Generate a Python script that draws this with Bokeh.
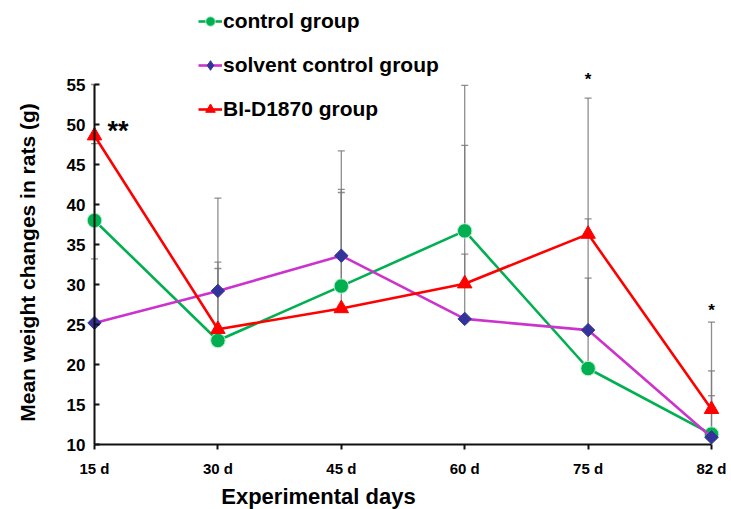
import numpy as np
from bokeh.plotting import figure
from bokeh.models import Range1d, FixedTicker, Legend, LegendItem, Label
from bokeh.embed import file_html
from bokeh.resources import INLINE
from bokeh.core.properties import value

# ---------------- data ----------------
days = ["15 d", "30 d", "45 d", "60 d", "75 d", "82 d"]
x_pos = [0, 1, 2, 3, 4, 5]

control = [38.0, 23.0, 29.8, 36.7, 19.5, 11.3]
control_err = [9.6, 9.0, 12.1, 18.2, 11.3, 7.9]

solvent = [25.2, 29.2, 33.6, 25.7, 24.3, 10.9]
solvent_err = [8.0, 11.6, 13.1, 8.1, 13.9, 5.2]

bid = [48.6, 24.4, 27.0, 30.1, 36.3, 14.4]
bid_err = [6.4, 8.4, 14.5, 17.3, 17.0, 10.9]

y_ticks = [10, 15, 20, 25, 30, 35, 40, 45, 50, 55]

sig_x = [4, 5]
sig_y = [55.6, 26.7]
sig_text = ["*", "*"]
sig2_x = [0]
sig2_y = [49.2]
sig2_text = ["**"]

FONT = "Liberation Sans"

# the frame covers the whole canvas; axes are drawn at fixed data locations
p = figure(width=731, height=509,
           x_range=Range1d(-0.7618, 5.162), y_range=Range1d(1.875, 65.5),
           output_backend="svg", toolbar_location=None,
           min_border_left=0, min_border_right=0, min_border_top=0,
           min_border_bottom=0, min_border=0)
p.outline_line_color = None
p.xgrid.visible = False
p.ygrid.visible = False
p.background_fill_color = "white"
p.border_fill_color = "white"

# ---------------- error bars ----------------
err_color = "#7a7a7a"
for vals, errs in [(control, control_err), (solvent, solvent_err), (bid, bid_err)]:
    tops = [v + e for v, e in zip(vals, errs)]
    p.segment(x0=x_pos, y0=vals, x1=x_pos, y1=tops, line_color=err_color,
              line_width=1.3, line_alpha=0.85)
    p.scatter(x=x_pos, y=tops, marker="dash", size=7, line_color=err_color,
              line_width=1.3, line_alpha=0.85)

# ---------------- series ----------------
lc = p.line(x_pos, control, line_color="#00B050", line_width=2.6)
sc = p.scatter(x_pos, control, marker="circle", size=14.5, fill_color="#00B050",
               line_color="#bfeed5", line_width=1)

ls = p.line(x_pos, solvent, line_color="#CC33CC", line_width=2.6)
ss = p.scatter(x_pos, solvent, marker="square", angle=np.pi / 4, size=9.5,
               fill_color="#333399", line_color="#333399", line_width=1)
# hidden twin used only for the legend swatch (diamond shape)
ss_leg = p.scatter(x_pos, solvent, marker="diamond", size=14,
                   fill_color="#333399", line_color="#333399", visible=False)

lb = p.line(x_pos, bid, line_color="#FF0000", line_width=2.6)
sb = p.scatter(x_pos, bid, marker="triangle", size=14.5, fill_color="#FF0000",
               line_color="#FF0000", line_width=1)

# ---------------- significance marks ----------------
p.text(x=sig_x, y=sig_y, text=sig_text, text_font=value(FONT),
       text_font_style="bold", text_font_size="17px", text_align="center",
       text_baseline="middle", text_color="black")
p.text(x=sig2_x, y=sig2_y, text=sig2_text, text_font=value(FONT),
       text_font_style="bold", text_font_size="27px", text_align="left",
       text_baseline="middle", text_color="black", x_offset=13)

# ---------------- axes ----------------
p.xaxis.fixed_location = 10
p.xaxis.bounds = (0, 5)
p.xaxis.ticker = FixedTicker(ticks=x_pos)
p.xaxis.major_label_overrides = {i: d for i, d in zip(x_pos, days)}
p.xaxis.major_tick_in = 0
p.xaxis.major_tick_out = 5
p.xaxis.minor_tick_line_color = None
p.xaxis.major_label_standoff = 10

p.yaxis.fixed_location = 0
p.yaxis.bounds = (10, 55)
p.yaxis.ticker = FixedTicker(ticks=y_ticks)
p.yaxis.major_tick_in = 5
p.yaxis.major_tick_out = 0
p.yaxis.minor_tick_line_color = None
p.yaxis.major_label_standoff = 9

for ax in (p.xaxis, p.yaxis):
    ax.axis_line_width = 2
    ax.axis_line_color = "#111111"
    ax.major_tick_line_width = 2
    ax.major_tick_line_color = "#111111"
    ax.major_label_text_font = FONT
    ax.major_label_text_font_style = "bold"
    ax.major_label_text_color = "black"
p.xaxis.major_label_text_font_size = "15px"
p.yaxis.major_label_text_font_size = "17px"

# axis titles
p.add_layout(Label(x=-0.543, y=32.75, text="Mean weight changes in rats (g)",
                   angle=np.pi / 2, text_align="center", text_baseline="middle",
                   text_font=FONT, text_font_style="bold", text_font_size="21px",
                   text_color="black"))
p.add_layout(Label(x=1.815, y=3.5, text="Experimental days",
                   text_align="center", text_baseline="middle",
                   text_font=FONT, text_font_style="bold", text_font_size="22px",
                   text_color="black"))

# ---------------- legend ----------------
legend = Legend(items=[
    LegendItem(label=value("control group"), renderers=[lc, sc]),
    LegendItem(label=value("solvent control group"), renderers=[ls, ss_leg]),
    LegendItem(label=value("BI-D1870 group"), renderers=[lb, sb]),
], location=(198, 387))
legend.glyph_width = 24
legend.glyph_height = 26
legend.label_height = 26
legend.spacing = 18
legend.padding = 0
legend.margin = 0
legend.label_standoff = 1
legend.border_line_color = None
legend.background_fill_alpha = 0
legend.inactive_fill_alpha = 0
legend.label_text_font = FONT
legend.label_text_font_style = "bold"
legend.label_text_font_size = "21px"
legend.label_text_color = "black"
p.add_layout(legend)

open("out.html", "w").write(file_html(p, INLINE))
